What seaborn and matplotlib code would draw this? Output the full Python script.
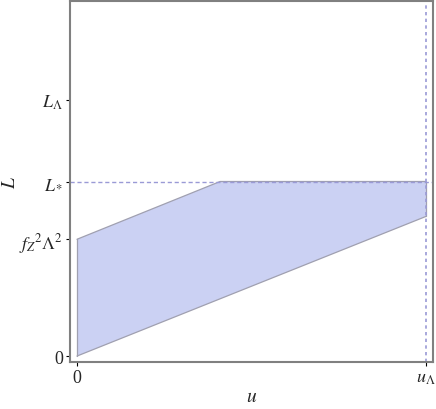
import numpy as np
import matplotlib
matplotlib.use("Agg")
import matplotlib.pyplot as plt
import seaborn as sns

# boundary of the allowed region (u in units of u_Lambda, L in units of L_*)
u_lower = [0.0, 1.0]
L_lower = [0.0, 0.80]
u_upper = [0.0, 0.41, 1.0]
L_upper = [0.669, 1.0, 1.0]

L_star = 1.0
u_cut = 1.0
y_ticks = [0.0, 0.669, 1.0, 1.469]
y_labels = ["0", r"$f_Z{}^2\Lambda^2$", r"$L_*$", r"$L_\Lambda$"]
x_ticks = [0.0, 1.0]
x_labels = ["0", r"$u_\Lambda$"]

sns.set_style("white")
plt.rcParams["mathtext.fontset"] = "stix"
plt.rcParams["font.family"] = ["Liberation Serif", "DejaVu Serif"]

fig = plt.figure(figsize=(4.36, 4.10), dpi=100)
ax = fig.add_axes([70 / 436, 47 / 410, 363 / 436, 361 / 410])

fill_color = "#cbd1f3"
edge_color = "#a0a0b0"
dash_color = "#9a9ad6"

poly_u = np.concatenate([u_upper, u_lower[::-1]])
poly_L = np.concatenate([L_upper, L_lower[::-1]])
ax.fill(poly_u, poly_L, color=fill_color, lw=0)
sns.lineplot(x=u_lower, y=L_lower, ax=ax, color=edge_color, lw=0.9)
sns.lineplot(x=u_upper, y=L_upper, ax=ax, color=edge_color, lw=0.9)
ax.plot([u_upper[0], u_upper[0]], [L_lower[0], L_upper[0]], color=edge_color, lw=0.9)
ax.plot([u_lower[-1], u_upper[-1]], [L_lower[-1], L_upper[-1]], color=edge_color, lw=0.9)

ax.axhline(L_star, color=dash_color, lw=1.0, ls=(0, (3, 2)))
ax.axvline(u_cut, color=dash_color, lw=1.2, ls=(0, (2, 2)))

ax.set_xlim(-0.02, 1.02)
ax.set_ylim(-0.034, 2.034)
ax.set_xticks(x_ticks)
ax.set_xticklabels(x_labels, fontsize=13)
ax.set_yticks(y_ticks)
ax.set_yticklabels(y_labels, fontsize=13)
ax.tick_params(axis="both", direction="out", length=3, width=0.8, color="black",
               pad=2, bottom=True, left=True)

ax.set_xlabel(r"$u$", fontsize=14)
ax.set_ylabel(r"$L$", fontsize=14)
ax.xaxis.set_label_coords(0.5, -0.072)
ax.yaxis.set_label_coords(-0.14, 0.5)

for sp in ax.spines.values():
    sp.set_color("#808080")
    sp.set_linewidth(1.5)

fig.savefig("out.png", dpi=100)
